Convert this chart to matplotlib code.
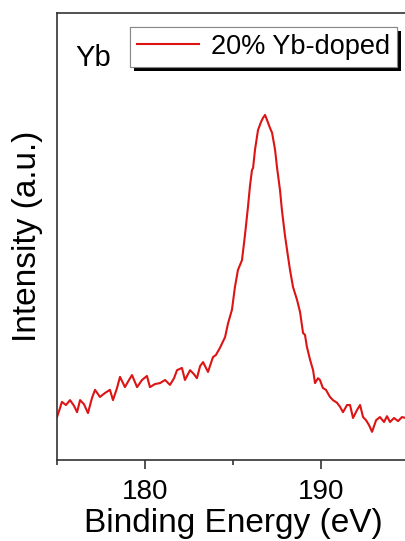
import matplotlib
matplotlib.use("Agg")
import matplotlib.pyplot as plt
import matplotlib.patheffects as pe
from matplotlib.ticker import MultipleLocator

plt.rcParams["font.family"] = ["Liberation Sans", "DejaVu Sans"]

# Yb 4d XPS region
energy = [
    175.00, 175.17, 175.28, 175.51, 175.74, 175.97, 176.14, 176.31, 176.53, 176.76,
    176.99, 177.16, 177.44, 177.73, 178.01, 178.18, 178.41, 178.58, 178.86, 179.09,
    179.26, 179.55, 179.83, 180.11, 180.28, 180.57, 180.85, 181.14, 181.42, 181.65,
    181.82, 182.10, 182.27, 182.56, 182.78, 182.95, 183.13, 183.30, 183.58, 183.86,
    184.03, 184.26, 184.55, 184.72, 184.94, 185.11, 185.28, 185.51, 185.68, 185.85,
    185.97, 186.08, 186.14, 186.25, 186.42, 186.59, 186.70, 186.82, 186.93, 187.10,
    187.22, 187.39, 187.50, 187.67, 187.78, 187.95, 188.13, 188.24, 188.41, 188.64,
    188.81, 188.98, 189.09, 189.20, 189.38, 189.55, 189.66, 189.83, 189.94, 190.11,
    190.28, 190.51, 190.68, 190.91, 191.08, 191.25, 191.48, 191.65, 191.82, 192.05,
    192.22, 192.39, 192.56, 192.73, 192.90, 193.13, 193.35, 193.58, 193.75, 193.92,
    194.15, 194.38, 194.60, 194.83,
]
intensity = [
    9.6, 11.6, 13.0, 12.3, 13.4, 12.1, 10.7, 13.4, 12.5, 10.5,
    13.9, 15.7, 14.1, 15.0, 15.7, 13.4, 16.1, 18.6, 16.3, 17.9,
    19.0, 16.3, 17.9, 18.8, 16.3, 17.0, 17.2, 17.9, 16.8, 18.3,
    20.1, 20.6, 17.9, 20.1, 19.2, 18.3, 21.0, 21.9, 19.7, 23.0,
    23.5, 25.1, 27.5, 30.6, 33.6, 38.7, 42.5, 44.7, 50.3, 56.6,
    61.5, 64.9, 65.3, 69.4, 73.8, 75.6, 76.5, 77.2, 76.1, 74.3,
    73.2, 69.4, 65.5, 60.4, 55.9, 50.3, 45.4, 42.5, 38.7, 35.8,
    33.1, 28.4, 28.0, 25.3, 22.4, 20.1, 17.2, 18.3, 17.9, 16.1,
    15.7, 14.1, 13.4, 12.8, 11.9, 10.7, 12.3, 12.3, 9.4, 11.2,
    12.3, 9.6, 8.9, 7.8, 6.3, 8.9, 9.6, 8.5, 9.8, 8.5,
    9.4, 8.7, 9.6, 9.4,
]
series_label = "20% Yb-doped"
element = "Yb"

fig = plt.figure(figsize=(4.06, 5.41), dpi=100)
ax = fig.add_axes([57 / 406, 81 / 541, 352 / 406, 447 / 541])

ax.plot(energy, intensity, color="#dc1414", lw=1.5, label=series_label)

ax.set_xlim(175, 195)
ax.set_ylim(0, 100)
ax.xaxis.set_major_locator(MultipleLocator(10))
ax.xaxis.set_minor_locator(MultipleLocator(5))
ax.tick_params(axis="x", which="major", direction="out", length=6.5, width=1.2,
               color="#333333", labelsize=20, pad=7)
ax.tick_params(axis="x", which="minor", direction="out", length=3.5, width=1.2,
               color="#333333")
ax.set_yticks([])
for side in ("left", "bottom", "top"):
    ax.spines[side].set_color("#333333")
    ax.spines[side].set_linewidth(1.2)
ax.spines["right"].set_visible(False)

ax.set_xlabel("Binding Energy (eV)", fontsize=24, labelpad=2)
ax.set_ylabel("Intensity (a.u.)", fontsize=24, labelpad=10)

fig.text(75 / 406, 1 - 58 / 541, element, fontsize=21, va="center", ha="left")

leg = ax.legend(loc="upper left", bbox_to_anchor=(130 / 406, 1 - 27 / 541),
                bbox_transform=fig.transFigure, borderaxespad=0, fancybox=False,
                fontsize=19.5, handlelength=2.3, handletextpad=0.45,
                borderpad=0.25, framealpha=1)
frame = leg.get_frame()
frame.set_edgecolor("#888888")
frame.set_linewidth(0.8)
frame.set_path_effects([
    pe.withSimplePatchShadow(offset=(3, -3), shadow_rgbFace="black", alpha=1.0),
    pe.Normal(),
])

fig.savefig("out.png", dpi=100)
